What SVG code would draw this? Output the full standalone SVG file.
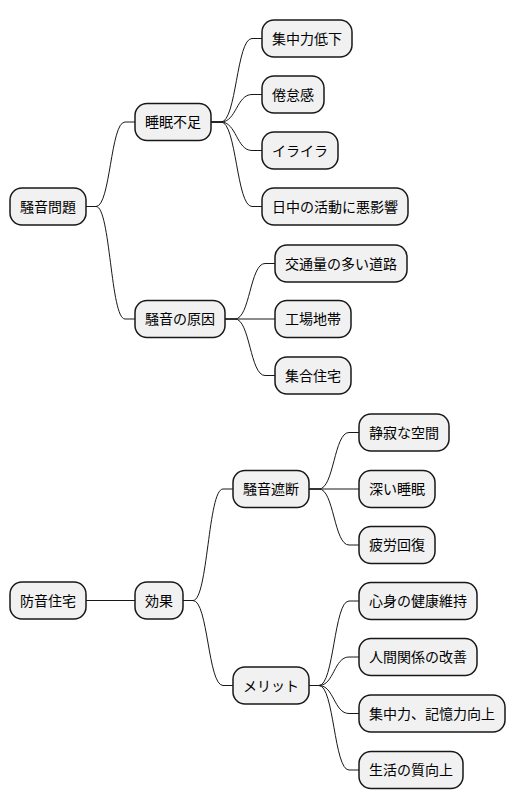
<svg xmlns="http://www.w3.org/2000/svg" width="516" height="809" viewBox="0 0 516 809">
<style>
.n rect{fill:#F1F1F1;stroke:#181818;stroke-width:1.5}
.n text{font-family:"Noto Sans CJK JP","Noto Sans",sans-serif;font-size:14px;fill:#000}
.c path{fill:none;stroke:#181818;stroke-width:1}
</style>
<rect width="516" height="809" fill="#FFFFFF"/>
<g class="c">
<path d="M86,206.5 L96,206.5 C110.5,206.5 110.5,122 125,122 L135,122"/>
<path d="M86,206.5 L96,206.5 C110.5,206.5 110.5,319 125,319 L135,319"/>
<path d="M211,122 L221,122 C236.5,122 236.5,38.5 252,38.5 L262,38.5"/>
<path d="M211,122 L221,122 C236.5,122 236.5,94.5 252,94.5 L262,94.5"/>
<path d="M211,122 L221,122 C236.5,122 236.5,150.5 252,150.5 L262,150.5"/>
<path d="M211,122 L221,122 C236.5,122 236.5,206.5 252,206.5 L262,206.5"/>
<path d="M225,319 L235,319 C250,319 250,263.5 265,263.5 L275,263.5"/>
<path d="M225,319 L275,319"/>
<path d="M225,319 L235,319 C250,319 250,375.5 265,375.5 L275,375.5"/>
<path d="M86,600.5 L135,600.5"/>
<path d="M183,600.5 L193,600.5 C208,600.5 208,489 223,489 L233,489"/>
<path d="M183,600.5 L193,600.5 C208,600.5 208,685.5 223,685.5 L233,685.5"/>
<path d="M309,489 L319,489 C334,489 334,432.5 349,432.5 L359,432.5"/>
<path d="M309,489 L359,489"/>
<path d="M309,489 L319,489 C334,489 334,545 349,545 L359,545"/>
<path d="M309,685.5 L319,685.5 C334,685.5 334,601 349,601 L359,601"/>
<path d="M309,685.5 L319,685.5 C334,685.5 334,657 349,657 L359,657"/>
<path d="M309,685.5 L319,685.5 C334,685.5 334,713.5 349,713.5 L359,713.5"/>
<path d="M309,685.5 L319,685.5 C334,685.5 334,770 349,770 L359,770"/>
</g>
<g id="n1" class="n"><rect x="10" y="188" width="76" height="37" rx="12"/><text x="20" y="211.5">騒音問題</text></g>
<g id="n2" class="n"><rect x="135" y="103.5" width="76" height="37" rx="12"/><text x="145" y="127">睡眠不足</text></g>
<g id="n3" class="n"><rect x="262" y="20" width="90" height="37" rx="12"/><text x="272" y="43.5">集中力低下</text></g>
<g id="n4" class="n"><rect x="262" y="76" width="62" height="37" rx="12"/><text x="272" y="99.5">倦怠感</text></g>
<g id="n5" class="n"><rect x="262" y="132" width="76" height="37" rx="12"/><text x="272" y="155.5">イライラ</text></g>
<g id="n6" class="n"><rect x="262" y="188" width="146" height="37" rx="12"/><text x="272" y="211.5">日中の活動に悪影響</text></g>
<g id="n7" class="n"><rect x="135" y="300.5" width="90" height="37" rx="12"/><text x="145" y="324">騒音の原因</text></g>
<g id="n8" class="n"><rect x="275" y="245" width="132" height="37" rx="12"/><text x="285" y="268.5">交通量の多い道路</text></g>
<g id="n9" class="n"><rect x="275" y="300.5" width="76" height="37" rx="12"/><text x="285" y="324">工場地帯</text></g>
<g id="n10" class="n"><rect x="275" y="357" width="76" height="37" rx="12"/><text x="285" y="380.5">集合住宅</text></g>
<g id="n11" class="n"><rect x="10" y="582" width="76" height="37" rx="12"/><text x="20" y="605.5">防音住宅</text></g>
<g id="n12" class="n"><rect x="135" y="582" width="48" height="37" rx="12"/><text x="145" y="605.5">効果</text></g>
<g id="n13" class="n"><rect x="233" y="470.5" width="76" height="37" rx="12"/><text x="243" y="494">騒音遮断</text></g>
<g id="n14" class="n"><rect x="233" y="667" width="76" height="37" rx="12"/><text x="243" y="690.5">メリット</text></g>
<g id="n15" class="n"><rect x="359" y="414" width="90" height="37" rx="12"/><text x="369" y="437.5">静寂な空間</text></g>
<g id="n16" class="n"><rect x="359" y="470.5" width="76" height="37" rx="12"/><text x="369" y="494">深い睡眠</text></g>
<g id="n17" class="n"><rect x="359" y="526.5" width="76" height="37" rx="12"/><text x="369" y="550">疲労回復</text></g>
<g id="n18" class="n"><rect x="359" y="582.5" width="118" height="37" rx="12"/><text x="369" y="606">心身の健康維持</text></g>
<g id="n19" class="n"><rect x="359" y="638.5" width="118" height="37" rx="12"/><text x="369" y="662">人間関係の改善</text></g>
<g id="n20" class="n"><rect x="359" y="695" width="146" height="37" rx="12"/><text x="369" y="718.5">集中力、記憶力向上</text></g>
<g id="n21" class="n"><rect x="359" y="751.5" width="104" height="37" rx="12"/><text x="369" y="775">生活の質向上</text></g>
</svg>
